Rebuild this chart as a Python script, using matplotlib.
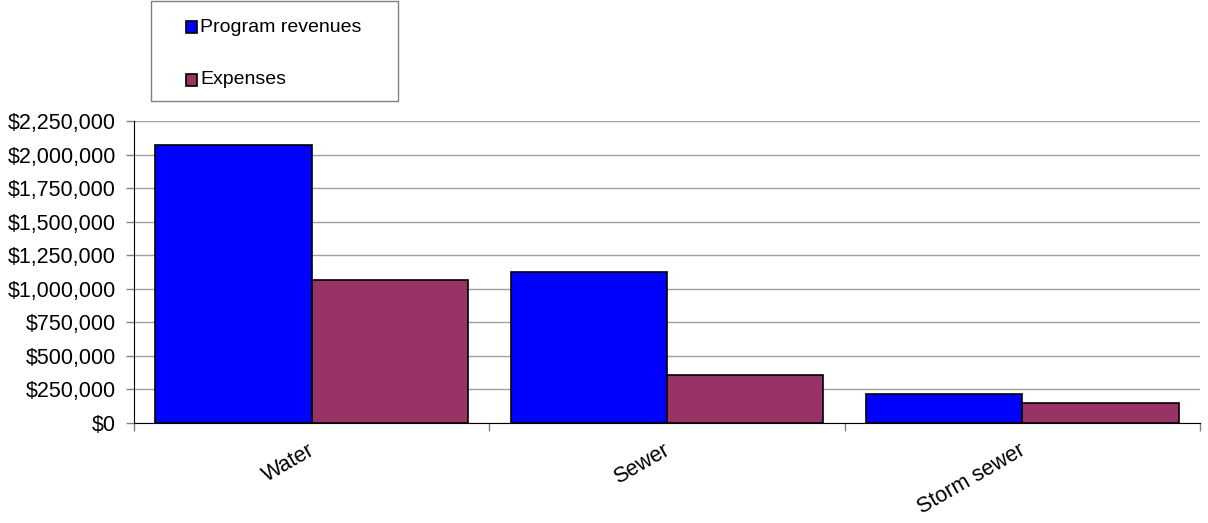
import numpy as np
import matplotlib.pyplot as plt
import matplotlib.transforms as mtransforms
from matplotlib.patches import Rectangle
from matplotlib.ticker import FuncFormatter

# valores por categoria
categorias = ["Water", "Sewer", "Storm sewer"]
ingresos = [2070000, 1123000, 217000]
gastos = [1068000, 354000, 150000]
series = ["Program revenues", "Expenses"]
colores = ["#0000ff", "#993366"]

plt.rcParams['font.family'] = ['Liberation Sans', 'DejaVu Sans']

fig = plt.figure(figsize=(12.08, 5.23), dpi=100)
ax = fig.add_axes([134 / 1208, 0.1912, 1066 / 1208, 0.5774])

x = np.arange(len(categorias))
ancho = 0.44
b1 = ax.bar(x - ancho / 2, ingresos, ancho, color=colores[0], edgecolor="black", linewidth=1.2, zorder=3)
b2 = ax.bar(x + ancho / 2, gastos, ancho, color=colores[1], edgecolor="black", linewidth=1.2, zorder=3)

ax.set_xlim(-0.5, 2.5)
ax.set_ylim(0, 2250000)
ax.set_yticks(np.arange(0, 2250001, 250000))
ax.yaxis.set_major_formatter(FuncFormatter(lambda v, p: "${:,.0f}".format(v)))
ax.tick_params(axis="y", labelsize=15.5, length=6, color="#808080", width=1, pad=7)
ax.grid(axis="y", color="#a0a0a0", linewidth=1, zorder=0)

# marcas en los bordes de cada categoria, etiquetas en el centro
ax.set_xticks([-0.5, 0.5, 1.5, 2.5])
ax.set_xticklabels([])
ax.tick_params(axis="x", which="major", length=6, color="#808080", width=1)
ax.set_xticks(x, minor=True)
ax.set_xticklabels(categorias, minor=True, rotation=30, ha="right", va="top",
                   rotation_mode="anchor", fontsize=15.5)
ax.tick_params(axis="x", which="minor", length=0, pad=12)
desplaza = mtransforms.ScaledTranslation(-4 / 100, 0, fig.dpi_scale_trans)
for etiqueta in ax.get_xticklabels(minor=True):
    etiqueta.set_transform(etiqueta.get_transform() + desplaza)

for lado in ["top", "right"]:
    ax.spines[lado].set_visible(False)
ax.spines["left"].set_color("black")
ax.spines["bottom"].set_color("black")

# leyenda dibujada a mano
W, H = 1208.0, 523.0
fig.patches.append(Rectangle((151 / W, 1 - 101 / H), 247 / W, 100 / H, transform=fig.transFigure,
                             facecolor="white", edgecolor="#808080", linewidth=1))
for i, (nombre, col) in enumerate(zip(series, colores)):
    yc = 27 + i * 53
    fig.patches.append(Rectangle((186 / W, 1 - (yc + 5.5) / H), 11 / W, 11 / H, transform=fig.transFigure,
                                 facecolor=col, edgecolor="black", linewidth=1.2))
    fig.text(200 / W, 1 - yc / H, nombre, fontsize=14, va="center", ha="left")

plt.savefig("out.png")
